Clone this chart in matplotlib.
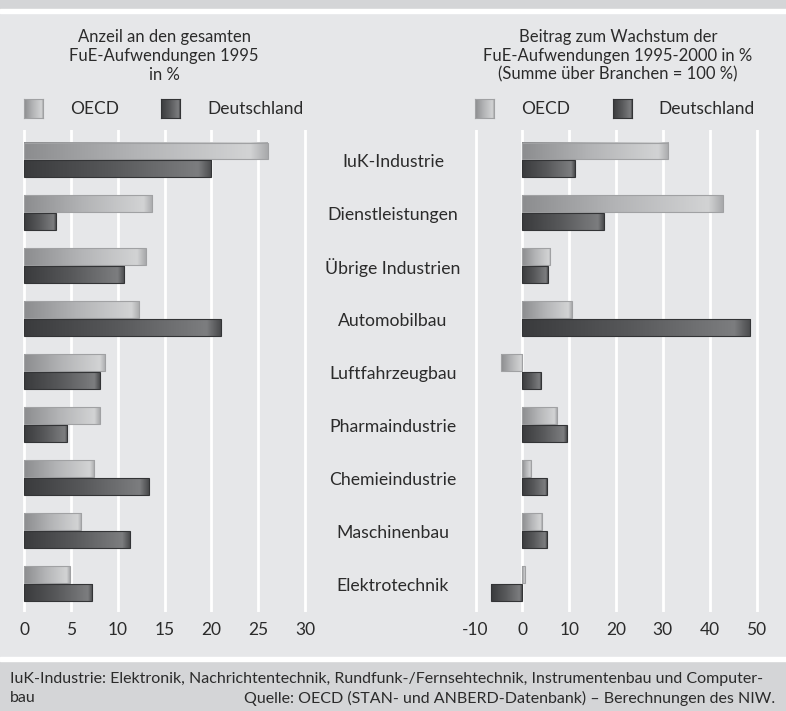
import numpy as np
import matplotlib
matplotlib.use("Agg")
import matplotlib.pyplot as plt
from matplotlib.colors import LinearSegmentedColormap
from matplotlib.patches import Rectangle
from matplotlib.transforms import blended_transform_factory

plt.rcParams['font.family'] = ['Lato', 'DejaVu Sans']

# --- data ---
categories = ['IuK-Industrie', 'Dienstleistungen', 'Übrige Industrien', 'Automobilbau',
              'Luftfahrzeugbau', 'Pharmaindustrie', 'Chemieindustrie', 'Maschinenbau',
              'Elektrotechnik']
anteil_oecd = [26.0, 13.7, 13.0, 12.3, 8.7, 8.1, 7.5, 6.1, 4.9]
anteil_de = [20.0, 3.4, 10.7, 21.0, 8.1, 4.6, 13.3, 11.3, 7.3]
wachstum_oecd = [31.2, 42.9, 6.0, 10.5, -4.5, 7.4, 1.9, 4.2, 0.5]
wachstum_de = [11.3, 17.5, 5.5, 48.7, 4.0, 9.6, 5.3, 5.3, -6.6]

ticks_left = [0, 5, 10, 15, 20, 25, 30]
ticks_right = [-10, 0, 10, 20, 30, 40, 50]

title_left = "Anzeil an den gesamten\nFuE-Aufwendungen 1995\nin %"
title_right = "Beitrag zum Wachstum der\nFuE-Aufwendungen 1995-2000 in %\n(Summe über Branchen = 100 %)"
footer1 = "IuK-Industrie: Elektronik, Nachrichtentechnik, Rundfunk-/Fernsehtechnik, Instrumentenbau und Computer-"
footer2a = "bau"
footer2b = "Quelle: OECD (STAN- und ANBERD-Datenbank) – Berechnungen des NIW."

# --- styles ---
BG = '#e6e7e9'
BAND = '#d4d5d7'
TXT = '#2b2b2b'
cm_oecd = LinearSegmentedColormap.from_list('oecd', ['#8c8d8f', '#b3b4b6', '#d2d3d4', '#a9aaac'])
cm_de = LinearSegmentedColormap.from_list('de', ['#3a3b3d', '#57585a', '#7c7d7f', '#4a4b4d'])
edge_oecd = '#a0a1a3'
edge_de = '#333436'

W, H = 786, 711
fig = plt.figure(figsize=(W / 100, H / 100), dpi=100, facecolor=BG)

# bands top and bottom
fig.patches.append(Rectangle((0, 1 - 9 / H), 1, 9 / H, transform=fig.transFigure, color=BAND, zorder=0))
fig.patches.append(Rectangle((0, 1 - 13 / H), 1, 4 / H, transform=fig.transFigure, color='white', zorder=0))
fig.patches.append(Rectangle((0, 0), 1, 50 / H, transform=fig.transFigure, color=BAND, zorder=0))
fig.patches.append(Rectangle((0, 50 / H), 1, 4 / H, transform=fig.transFigure, color='white', zorder=0))

grad = np.linspace(0, 1, 256).reshape(1, -1)
grad = np.minimum(grad / 0.93, 1.0) * 0.67 + (grad > 0.93) * (grad - 0.93) / 0.07 * 0.33


def px_axes(x0, x1, y_top, y_bot):
    return [x0 / W, 1 - y_bot / H, (x1 - x0) / W, (y_bot - y_top) / H]


def draw_bar(ax, y, val, h, cmap, edge):
    x0, x1 = min(0, val), max(0, val)
    ax.imshow(grad, cmap=cmap, vmin=0, vmax=1, aspect='auto', interpolation='bilinear',
              extent=(x0, x1, y + h / 2, y - h / 2), zorder=3)
    ax.add_patch(Rectangle((x0, y - h / 2), x1 - x0, h, fill=False, edgecolor=edge, lw=0.8, zorder=4))


def panel(ax, v_oecd, v_de, ticks, xlim):
    ax.set_facecolor(BG)
    for t in ticks:
        ax.axvline(t, color='white', lw=2.0, zorder=1)
    h = 0.32
    for i in range(len(categories)):
        draw_bar(ax, i - 0.17, v_oecd[i], h, cm_oecd, edge_oecd)
        draw_bar(ax, i + 0.16, v_de[i], h, cm_de, edge_de)
    ax.set_xlim(*xlim)
    ax.set_ylim(8.53, -0.566)
    ax.set_xticks(ticks)
    ax.set_xticklabels([str(t) for t in ticks])
    ax.set_yticks([])
    ax.tick_params(axis='x', length=0, pad=7, labelsize=12.5, labelcolor=TXT)
    for s in ax.spines.values():
        s.set_visible(False)


# left panel: 0 -> x=24, 30 -> x=305
sl = (305 - 24) / 30.0
axL = fig.add_axes(px_axes(24 - 0.5 * sl, 305 + 0.5 * sl, 130, 612))
panel(axL, anteil_oecd, anteil_de, ticks_left, (-0.5, 30.5))

# right panel: -10 -> x=475.5, 50 -> x=756.5
sr = (756.5 - 475.5) / 60.0
axR = fig.add_axes(px_axes(475.5 - 1 * sr, 756.5 + 1 * sr, 130, 612))
panel(axR, wachstum_oecd, wachstum_de, ticks_right, (-11, 51))

# category labels in the middle
tr = blended_transform_factory(fig.transFigure, axL.transData)
for i, c in enumerate(categories):
    fig.text(393 / W, i + 0.03, c, transform=tr, ha='center', va='center', fontsize=12.7, color=TXT)

# titles
fig.text(164 / W, 1 - 56 / H, title_left, ha='center', va='center', fontsize=12, color=TXT, linespacing=1.22)
fig.text(618 / W, 1 - 56 / H, title_right, ha='center', va='center', fontsize=12, color=TXT, linespacing=1.22)


# legends
def legend_icon(x0, cmap, edge):
    a = fig.add_axes(px_axes(x0, x0 + 19, 99, 118))
    a.imshow(grad, cmap=cmap, vmin=0, vmax=1, aspect='auto', interpolation='bilinear')
    a.set_xticks([]); a.set_yticks([])
    for s in a.spines.values():
        s.set_color(edge); s.set_linewidth(0.8)


legend_icon(24, cm_oecd, edge_oecd)
legend_icon(161, cm_de, edge_de)
legend_icon(475, cm_oecd, edge_oecd)
legend_icon(613, cm_de, edge_de)
for x, t in [(70, 'OECD'), (207, 'Deutschland'), (521, 'OECD'), (658, 'Deutschland')]:
    fig.text(x / W, 1 - 109 / H, t, ha='left', va='center', fontsize=12.5, color=TXT)

# footer
fig.text(10 / W, 1 - 679 / H, footer1, ha='left', va='center', fontsize=11.55, color=TXT)
fig.text(10 / W, 1 - 698 / H, footer2a, ha='left', va='center', fontsize=11.55, color=TXT)
fig.text(775 / W, 1 - 698 / H, footer2b, ha='right', va='center', fontsize=11.55, color=TXT)

fig.savefig('out.png', dpi=100, facecolor=BG)
